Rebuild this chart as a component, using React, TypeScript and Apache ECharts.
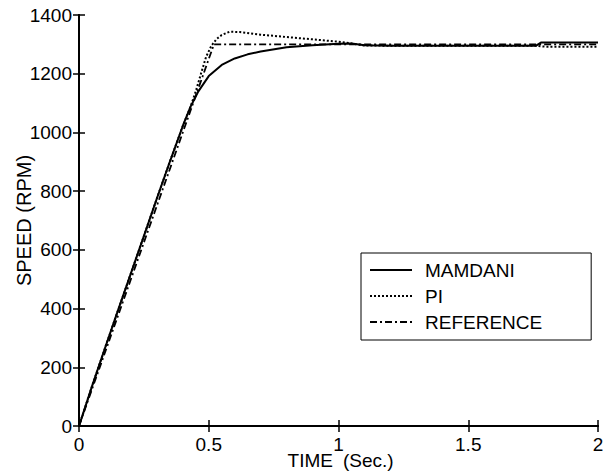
import React, { useEffect, useRef } from "react";
import * as echarts from "echarts";

const seriesNames = ["MAMDANI", "PI", "REFERENCE"];
const xNameParts = ["TIME", "(Sec.)"];
const yName = "SPEED (RPM)";

const mamdaniTime = [0, 0.05, 0.1, 0.15, 0.2, 0.25, 0.3, 0.35, 0.4, 0.43, 0.46, 0.5, 0.55, 0.6, 0.65, 0.7, 0.8, 0.9, 1.0, 1.05, 1.1, 1.2, 1.4, 1.6, 1.76, 1.78, 2.0];
const mamdaniSpeed = [0, 135, 265, 393, 520, 647, 775, 900, 1022, 1088, 1140, 1192, 1230, 1252, 1266, 1276, 1290, 1297, 1302, 1303, 1297, 1295, 1295, 1295, 1295, 1306, 1306];

const piTime = [0, 0.05, 0.1, 0.15, 0.2, 0.25, 0.3, 0.35, 0.4, 0.43, 0.45, 0.47, 0.49, 0.51, 0.53, 0.55, 0.58, 0.62, 0.7, 0.8, 0.9, 1.0, 1.05, 1.1, 1.3, 1.76, 1.8, 2.0];
const piSpeed = [0, 135, 265, 393, 520, 647, 775, 900, 1022, 1088, 1140, 1200, 1258, 1295, 1318, 1332, 1343, 1342, 1333, 1325, 1317, 1309, 1303, 1296, 1295, 1295, 1292, 1292];

const refTime = [0, 0.52, 2.0];
const refSpeed = [0, 1300, 1300];

const xMin = 0, xMax = 2, xStep = 0.5;
const yMin = 0, yMax = 1400, yStep = 200;

const pairs = (t: number[], v: number[]) => t.map((x, i) => [x, v[i]]);

export default function App() {
  const ref = useRef<HTMLDivElement>(null);
  useEffect(() => {
    const chart = echarts.init(ref.current!, null, { renderer: "svg" });
    const font = "'Liberation Sans', Arial, Helvetica, sans-serif";
    const line = { show: true, lineStyle: { color: "#000", width: 2 } };
    const tick = { show: true, inside: true, length: 6, lineStyle: { color: "#000", width: 1.5 } };
    const xBase = { type: "value", min: xMin, max: xMax, interval: xStep, axisLine: line, axisTick: tick, splitLine: { show: false } };
    const yBase = { type: "value", min: yMin, max: yMax, interval: yStep, axisLine: line, axisTick: tick, splitLine: { show: false } };
    chart.setOption({
      animation: false,
      backgroundColor: "#fff",
      textStyle: { fontFamily: font, color: "#000" },
      grid: { left: 79, top: 15, right: 7, bottom: 48, containLabel: false, outerBoundsMode: "none" },
      xAxis: [
        {
          ...xBase,
          position: "bottom",
          axisLabel: { fontSize: 19, color: "#000", margin: 9, fontFamily: font, formatter: (v: number) => String(v) },
        },
        { ...xBase, position: "top", axisLabel: { show: false } },
      ],
      yAxis: [
        {
          ...yBase,
          position: "left",
          name: yName,
          nameLocation: "middle",
          nameRotate: 90,
          nameGap: 45,
          nameMoveOverlap: false,
          nameTextStyle: { fontSize: 20, color: "#000", fontFamily: font },
          axisLabel: { fontSize: 19, color: "#000", margin: 7, fontFamily: font, formatter: (v: number) => String(v) },
        },
        { ...yBase, position: "right", axisLabel: { show: false } },
      ],
      graphic: [
        {
          type: "text",
          right: 605 - 333,
          top: 451,
          style: { text: xNameParts[0], fontSize: 19, fontFamily: font, fill: "#000" },
        },
        {
          type: "text",
          left: 343,
          top: 451,
          style: { text: xNameParts[1], fontSize: 19, fontFamily: font, fill: "#000" },
        },
      ],
      legend: {
        data: seriesNames,
        orient: "vertical",
        left: 361,
        top: 253,
        itemWidth: 42,
        itemHeight: 14,
        itemGap: 6,
        padding: [7, 49, 8, 8],
        borderColor: "#000",
        borderWidth: 1,
        backgroundColor: "#fff",
        itemStyle: { color: "rgba(0,0,0,0)", borderColor: "rgba(0,0,0,0)", borderWidth: 0 },
        textStyle: { fontSize: 19, color: "#000", fontFamily: font, lineHeight: 20, padding: [0, 0, 0, 8] },
      },
      series: [
        {
          name: seriesNames[0],
          type: "line",
          xAxisIndex: 0,
          yAxisIndex: 0,
          symbol: "none",
          z: 3,
          data: pairs(mamdaniTime, mamdaniSpeed),
          lineStyle: { color: "#000", width: 2, type: "solid" },
          itemStyle: { color: "#000" },
        },
        {
          name: seriesNames[1],
          type: "line",
          xAxisIndex: 0,
          yAxisIndex: 0,
          symbol: "none",
          z: 2,
          data: pairs(piTime, piSpeed),
          lineStyle: { color: "#000", width: 2, type: [2, 2] },
          itemStyle: { color: "#000" },
        },
        {
          name: seriesNames[2],
          type: "line",
          xAxisIndex: 0,
          yAxisIndex: 0,
          symbol: "none",
          z: 2,
          data: pairs(refTime, refSpeed),
          lineStyle: { color: "#000", width: 1.8, type: [7, 3, 2, 3] },
          itemStyle: { color: "#000" },
        },
      ],
    });
    return () => chart.dispose();
  }, []);
  return <div ref={ref} style={{ width: 605, height: 474, position: "absolute", left: 0, top: 0 }} />;
}
